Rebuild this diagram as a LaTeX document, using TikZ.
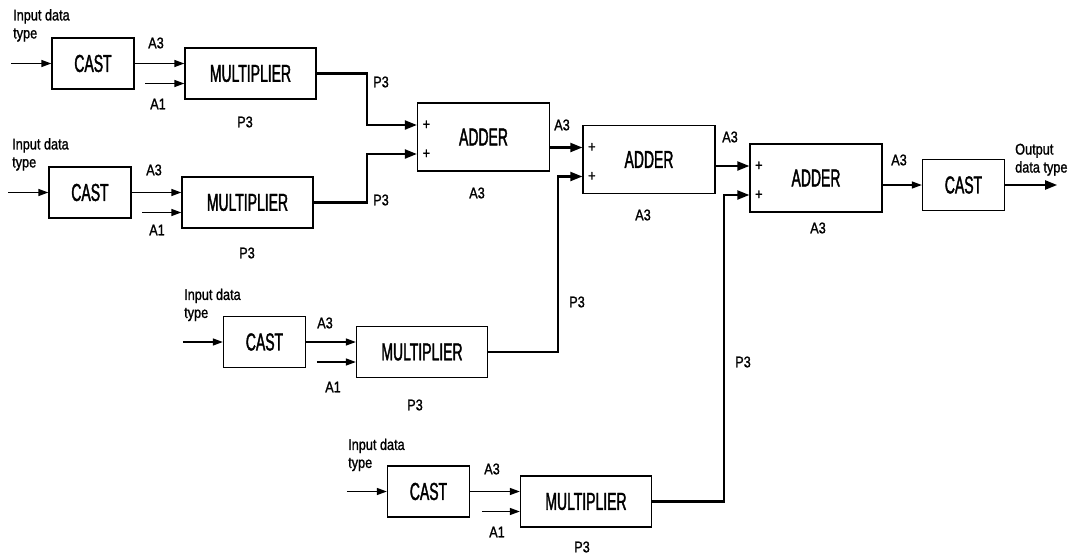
\documentclass[tikz,border=0pt]{standalone}
\usepackage{fontspec}
\setmainfont{Liberation Sans}
\newfontfamily\blockfont{Liberation Sans}[FakeStretch=0.57,FakeBold=1.5]
\newfontfamily\labelfont{Liberation Sans}[FakeStretch=0.82,FakeBold=1.2]
\usetikzlibrary{arrows.meta,calc}
\begin{document}
\begin{tikzpicture}[x=1pt,y=-1pt,
  blk/.style={draw, line width=1.3pt, inner sep=0pt, font=\blockfont\fontsize{24.5}{24.5}\selectfont},
  castbox/.style={blk, minimum width=82pt, minimum height=51pt},
  multbox/.style={blk, minimum width=131pt, minimum height=51pt},
  adderbox/.style={blk, minimum width=132pt, minimum height=68pt},
  lbl/.style={font=\labelfont\fontsize{15.5}{18}\selectfont, inner sep=0pt},
  inlbl/.style={lbl, anchor=north west, align=left},
  sarrow/.style={line width=1.3pt, -{Triangle[length=10pt,width=7pt]}},
  barrow/.style={line width=2.1pt, -{Triangle[length=12pt,width=9pt]}}]
\useasboundingbox (0,0) rectangle (1074,555);

% blocks
\node[castbox] (c1) at (93,63.5) {CAST};
\node[multbox] (m1) at (250.5,73.5) {MULTIPLIER};
\node[castbox] (c2) at (90,192.5) {CAST};
\node[multbox] (m2) at (247.5,202.5) {MULTIPLIER};
\node[castbox] (c3) at (264.5,342) {CAST};
\node[multbox] (m3) at (422,352) {MULTIPLIER};
\node[castbox] (c4) at (428.5,491.5) {CAST};
\node[multbox] (m4) at (586,501.5) {MULTIPLIER};
\node[adderbox] (s1) at (483.5,137) {ADDER};
\node[adderbox] (s2) at (649,159.5) {ADDER};
\node[adderbox] (s3) at (816,178) {ADDER};
\node[castbox] (c5) at (963.5,185) {CAST};

% coordinates
\coordinate (i1) at ($(c1.west)+(-40,0)$);
\coordinate (i2) at ($(c2.west)+(-40,0)$);
\coordinate (i3) at ($(c3.west)+(-40,0)$);
\coordinate (i4) at ($(c4.west)+(-40,0)$);
\coordinate (q1) at ($(m1.west)+(-39,10)$);
\coordinate (q2) at ($(m2.west)+(-39,10)$);
\coordinate (q3) at ($(m3.west)+(-39,10)$);
\coordinate (q4) at ($(m4.west)+(-38,10)$);
\coordinate (s1a) at ($(s1.west)+(0,-12)$);
\coordinate (s1b) at ($(s1.west)+(0,17)$);
\coordinate (s2a) at ($(s2.west)+(0,-12)$);
\coordinate (s2b) at ($(s2.west)+(0,17)$);
\coordinate (s3a) at ($(s3.west)+(0,-12)$);
\coordinate (s3b) at ($(s3.west)+(0,17)$);
\coordinate (o) at ($(c5.east)+(52,0)$);

% input connectors
\foreach \k in {1,2,3,4}{
  \draw[sarrow] (i\k) -- (c\k.west);
  \draw[sarrow] (c\k.east) -- (c\k.east -| m\k.west);
  \draw[sarrow] (q\k) -- (q\k -| m\k.west);
}
% multiplier outputs
\draw[barrow] (m1.east) -- ++(50,0) |- (s1a);
\draw[barrow] (m2.east) -- ++(53,0) |- (s1b);
\draw[barrow] (m3.east) -- ++(70,0) |- (s2b);
\draw[barrow] (m4.east) -- ++(72,0) |- (s3b);
% adder chain
\draw[barrow] (s1.east |- s2a) -- (s2a);
\draw[barrow] (s2.east |- s3a) -- (s3a);
\draw[sarrow] (s3.east |- c5) -- (c5.west);
\draw[barrow] (c5.east) -- (o);

% plus signs
\foreach \s in {s1a,s1b,s2a,s2b,s3a,s3b}{
  \node[lbl] (p\s) at ($(\s)+(9.5,0)$) {+};
}

% input / output labels
\node[inlbl] (t1) at (13,9) {Input data\\type};
\node[inlbl] (t2) at (12,138) {Input data\\type};
\node[inlbl] (t3) at (184,288.5) {Input data\\type};
\node[inlbl] (t4) at (348,438.5) {Input data\\type};
\node[inlbl] (t5) at (1015,143.5) {Output\\data type};

% row labels
\node[lbl] (l1a) at (156,43) {A3};
\node[lbl] (l1b) at (158,104) {A1};
\node[lbl] (l1c) at (245,122) {P3};
\node[lbl] (l1d) at (381,82) {P3};
\node[lbl] (l2a) at (154,170) {A3};
\node[lbl] (l2b) at (157,230) {A1};
\node[lbl] (l2c) at (247,253) {P3};
\node[lbl] (l2d) at (381,200) {P3};
\node[lbl] (l3a) at (325,323) {A3};
\node[lbl] (l3b) at (333,387) {A1};
\node[lbl] (l3c) at (415,405) {P3};
\node[lbl] (l3d) at (577,302) {P3};
\node[lbl] (l4a) at (492,469) {A3};
\node[lbl] (l4b) at (497,532) {A1};
\node[lbl] (l4c) at (582,547) {P3};
\node[lbl] (l4d) at (743,362) {P3};
% adder labels
\node[lbl] (k1) at (562,125) {A3};
\node[lbl] (k2) at (477,193) {A3};
\node[lbl] (k3) at (643,215) {A3};
\node[lbl] (k4) at (730,137) {A3};
\node[lbl] (k5) at (818,228) {A3};
\node[lbl] (k6) at (899,160) {A3};
\end{tikzpicture}
\end{document}
